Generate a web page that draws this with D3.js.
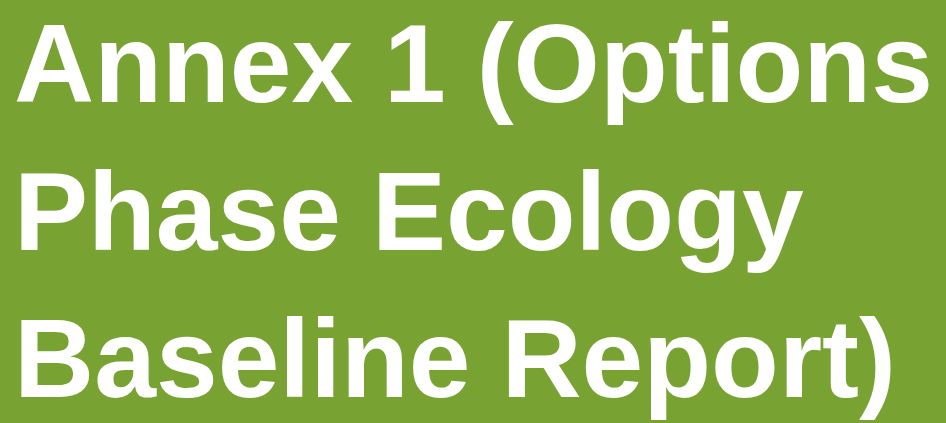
<!DOCTYPE html>
<html>
<head>
<meta charset="utf-8">
<script src="https://d3js.org/d3.v7.min.js"></script>
<style>
  html, body { margin: 0; padding: 0; background: #78a232; }
  svg { display: block; }
</style>
</head>
<body>
<div id="chart"></div>
<script>
// title lines of the cover
var lines = ["Annex 1 (Options", "Phase Ecology", "Baseline Report)"];
var lineIndex = [0, 1, 2];

var width = 946, height = 423;

var svg = d3.select("#chart").append("svg")
  .attr("width", width)
  .attr("height", height);

svg.append("rect")
  .attr("width", width)
  .attr("height", height)
  .attr("fill", "#78a232");

// baselines
var y = d3.scaleLinear()
  .domain([0, 2])
  .range([102, 397]);

svg.selectAll("text.title")
  .data(lines)
  .enter()
  .append("text")
  .attr("class", "title")
  .attr("x", 14)
  .attr("y", function(d, i) { return y(lineIndex[i]); })
  .attr("fill", "#ffffff")
  .style("font-family", "'Liberation Sans', Arial, sans-serif")
  .style("font-weight", "700")
  .style("font-size", "111px")
  .text(function(d) { return d; });
</script>
</body>
</html>
